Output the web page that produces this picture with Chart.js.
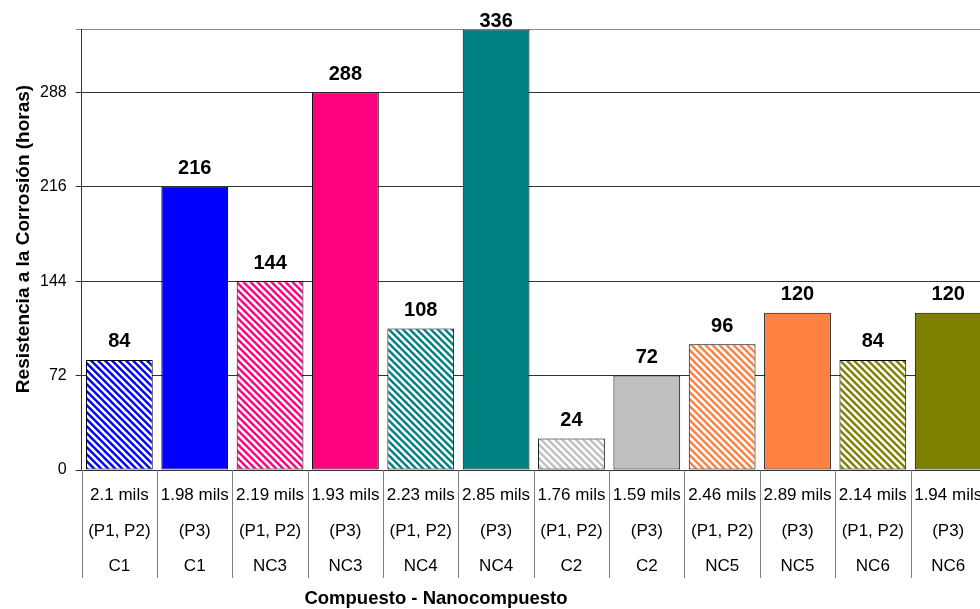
<!DOCTYPE html>
<html>
<head>
<meta charset="utf-8">
<script src="https://cdn.jsdelivr.net/npm/chart.js@4/dist/chart.umd.min.js"></script>
<style>
html,body{margin:0;padding:0;background:#fff;overflow:hidden;width:980px;height:609px;}
canvas{display:block;}
</style>
</head>
<body>
<canvas id="c" width="990" height="609"></canvas>
<script>
// ---- data ----
const thickness = ['2.1 mils','1.98 mils','2.19 mils','1.93 mils','2.23 mils','2.85 mils','1.76 mils','1.59 mils','2.46 mils','2.89 mils','2.14 mils','1.94 mils'];
const process   = ['(P1, P2)','(P3)','(P1, P2)','(P3)','(P1, P2)','(P3)','(P1, P2)','(P3)','(P1, P2)','(P3)','(P1, P2)','(P3)'];
const material  = ['C1','C1','NC3','NC3','NC4','NC4','C2','C2','NC5','NC5','NC6','NC6'];
const hours     = [84,216,144,288,108,336,24,72,96,120,84,120];
const hatched   = [true,false,true,false,true,false,true,false,true,false,true,false];
const materialColors = {C1:'#0000FF', NC3:'#FF0080', NC4:'#008080', C2:'#C0C0C0', NC5:'#FF8040', NC6:'#808000'};
const yTickValues = [0,72,144,216,288,336];
const yTickLabels = ['0','72','144','216','288',''];
const xTitle = 'Compuesto - Nanocompuesto';
const yTitle = 'Resistencia a la Corrosión (horas)';

const FONT = '"Liberation Sans", Arial, sans-serif';

function stripePattern(color){
  const s = 7;
  const cv = document.createElement('canvas');
  cv.width = s; cv.height = s;
  const g = cv.getContext('2d');
  g.fillStyle = color; g.fillRect(0,0,s,s);
  g.strokeStyle = '#ffffff'; g.lineWidth = 2.6;
  for (let k=-1;k<=1;k++){
    g.beginPath(); g.moveTo(-1, -1 + s*k); g.lineTo(s+1, s+1 + s*k); g.stroke();
  }
  return g.createPattern(cv, 'repeat');
}

const fills = material.map((m,i)=> hatched[i] ? stripePattern(materialColors[m]) : materialColors[m]);
const labels = thickness.map((t,i)=>[t, process[i], material[i]]);

const valueLabels = {
  id:'valueLabels',
  afterDatasetsDraw(chart){
    const ctx = chart.ctx;
    const meta = chart.getDatasetMeta(0);
    ctx.save();
    ctx.font = 'bold 20px ' + FONT;
    ctx.fillStyle = '#000';
    ctx.textAlign = 'center';
    ctx.textBaseline = 'middle';
    meta.data.forEach((el,i)=>{
      const y = Math.max(el.y - 18, chart.chartArea.top - 8.5);
      ctx.fillText(String(hours[i]), el.x, y);
    });
    ctx.restore();
  }
};

// vertical separators between category labels (below the axis)
const categorySeparators = {
  id:'categorySeparators',
  afterDraw(chart){
    const xs = chart.scales.x;
    const n = xs.ticks.length;
    if (n < 2) return;
    const px = [];
    for (let i=0;i<n;i++) px.push(xs.getPixelForTick(i));
    const half = (px[1]-px[0])/2;
    const bounds = [px[0]-half];
    for (let i=0;i<n;i++) bounds.push(px[i]+half);
    const ctx = chart.ctx;
    const top = chart.chartArea.bottom;
    ctx.save();
    ctx.strokeStyle = '#808080';
    ctx.lineWidth = 1;
    bounds.forEach(b=>{
      const x = Math.round(b) + 0.5;
      ctx.beginPath(); ctx.moveTo(x, top); ctx.lineTo(x, top + 108); ctx.stroke();
    });
    ctx.restore();
  }
};

const axisTitles = {
  id:'axisTitles',
  afterDraw(chart){
    const ctx = chart.ctx;
    ctx.save();
    ctx.fillStyle = '#000';
    ctx.textAlign = 'center';
    ctx.textBaseline = 'alphabetic';
    ctx.font = 'bold 18.5px ' + FONT;
    ctx.fillText(xTitle, 436, 604);
    ctx.translate(29, 239);
    ctx.rotate(-Math.PI/2);
    ctx.font = 'bold 19px ' + FONT;
    ctx.fillText(yTitle, 0, 0);
    ctx.restore();
  }
};

new Chart(document.getElementById('c'), {
  type:'bar',
  data:{
    labels: labels,
    datasets:[{
      data: hours,
      backgroundColor: fills,
      borderColor:'#000',
      borderWidth:1,
      borderSkipped:false,
      barPercentage:0.886,
      categoryPercentage:1
    }]
  },
  options:{
    responsive:false,
    devicePixelRatio:1,
    animation:false,
    layout:{padding:{left:31, top:29.5, right:1, bottom:17}},
    plugins:{legend:{display:false}, tooltip:{enabled:false}, title:{display:false}},
    scales:{
      x:{
        offset:true,
        grid:{display:false, drawTicks:false},
        border:{display:true, color:'#333'},
        ticks:{
          autoSkip:false, maxRotation:0, minRotation:0,
          padding:7.75,
          color:'#000',
          font:{family:FONT, size:17, lineHeight:'35.5px'}
        },
        title:{display:false}
      },
      y:{
        min:0, max:336,
        afterBuildTicks(scale){ scale.ticks = yTickValues.map(v=>({value:v})); },
        grid:{
          color:(c)=> (c.tick && c.tick.value === 336) ? '#888' : '#333',
          tickLength:6, drawTicks:true
        },
        border:{display:true, color:'#333'},
        ticks:{
          padding:9,
          color:'#000',
          font:{family:FONT, size:16},
          callback:(v,i)=> yTickLabels[i]
        },
        title:{display:false}
      }
    }
  },
  plugins:[valueLabels, categorySeparators, axisTitles]
});
</script>
</body>
</html>
